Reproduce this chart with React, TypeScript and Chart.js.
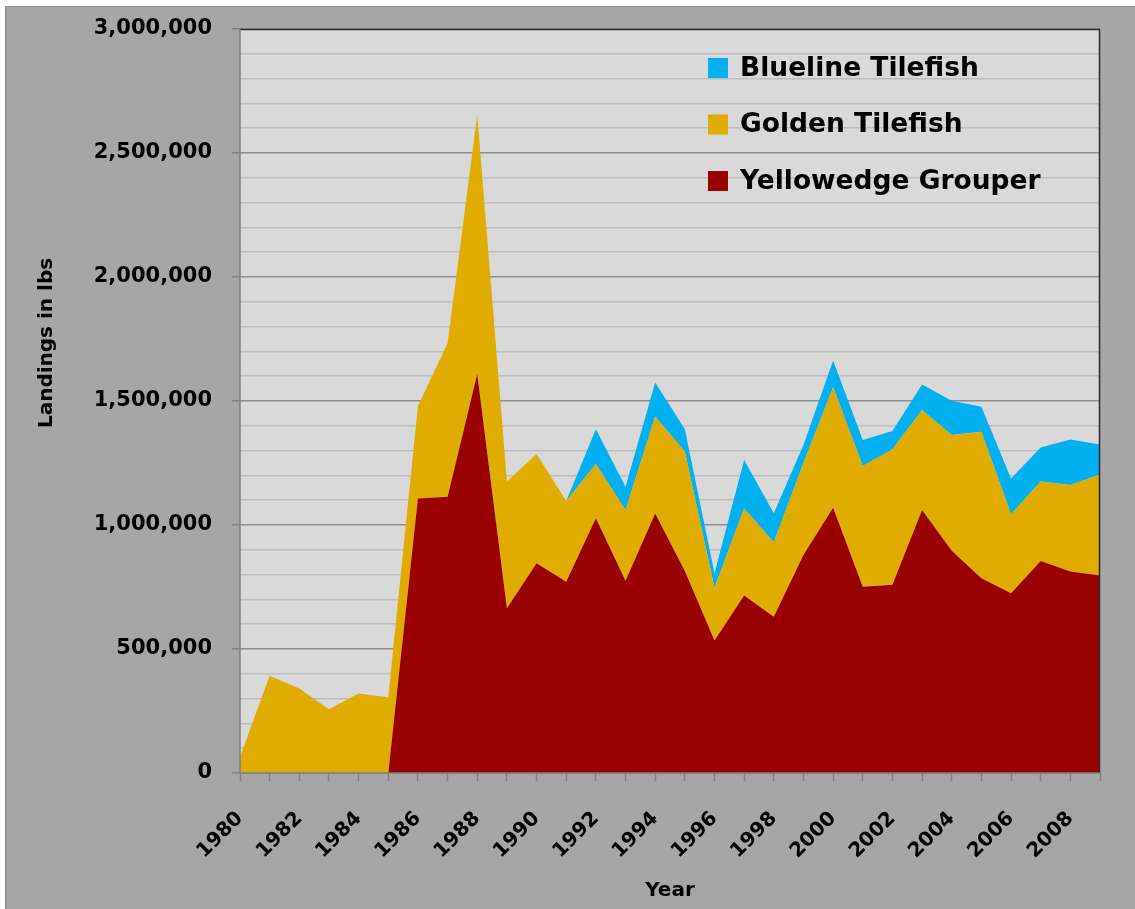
import React, { useEffect, useRef } from 'react';
import { Chart, registerables } from 'chart.js';

Chart.register(...registerables);

const years = ['1980','1981','1982','1983','1984','1985','1986','1987','1988','1989','1990','1991','1992','1993','1994','1995','1996','1997','1998','1999','2000','2001','2002','2003','2004','2005','2006','2007','2008','2009'];

const yellowedgeGrouper = [0,0,0,0,0,0,1107000,1114000,1609000,664000,846000,771000,1027000,775000,1046000,815000,534000,716000,630000,879000,1070000,751000,759000,1060000,896000,785000,725000,855000,812000,796000];

const goldenTilefish = [65000,392000,341000,257000,321000,305000,373000,619000,1044000,511000,440000,326000,219000,285000,391000,481000,213000,351000,300000,371000,485000,487000,546000,404000,467000,591000,318000,320000,349000,408000];

const bluelineTilefish = [0,0,0,0,0,0,0,0,0,0,0,0,140000,94000,138000,90000,58000,195000,117000,73000,108000,105000,74000,103000,138000,101000,145000,138000,184000,121000];

const yMax = 3000000;
const yStep = 100000;
const yLabelStep = 500000;

const seriesNames = ['Yellowedge Grouper', 'Golden Tilefish', 'Blueline Tilefish'];
const seriesColors = ['#990000', '#E0AC00', '#00B0F0'];

const FONT = '"DejaVu Sans", sans-serif';

export default function App() {
  const canvasRef = useRef<HTMLCanvasElement | null>(null);

  useEffect(() => {
    const canvas = canvasRef.current;
    if (!canvas) return;

    const plotDecor = {
      id: 'plotDecor',
      beforeDraw(chart: any) {
        const { ctx, chartArea: a } = chart;
        ctx.save();
        ctx.fillStyle = '#D9D9D9';
        ctx.fillRect(a.left, a.top, a.right - a.left, a.bottom - a.top);
        ctx.restore();
      },
      afterDatasetsDraw(chart: any) {
        const { ctx, chartArea: a } = chart;
        ctx.save();
        ctx.lineWidth = 1.5;
        ctx.strokeStyle = '#2a2a2a';
        ctx.beginPath();
        ctx.moveTo(a.left, a.top + 0.5);
        ctx.lineTo(a.right - 0.5, a.top + 0.5);
        ctx.lineTo(a.right - 0.5, a.bottom);
        ctx.stroke();
        ctx.strokeStyle = '#808080';
        ctx.lineWidth = 1.5;
        ctx.beginPath();
        ctx.moveTo(a.left, a.top);
        ctx.lineTo(a.left, a.bottom);
        ctx.lineTo(a.right, a.bottom);
        ctx.stroke();

        // y axis title
        ctx.fillStyle = '#000';
        ctx.font = `bold 20px ${FONT}`;
        ctx.textAlign = 'center';
        ctx.textBaseline = 'middle';
        ctx.translate(41, 336);
        ctx.rotate(-Math.PI / 2);
        ctx.fillText('Landings in lbs', 0, 0);
        ctx.restore();

        // legend
        ctx.save();
        const order = [2, 1, 0];
        ctx.font = `bold 26.5px ${FONT}`;
        ctx.textBaseline = 'middle';
        ctx.textAlign = 'left';
        order.forEach((di, r) => {
          const cy = 61 + r * 56.5;
          ctx.fillStyle = seriesColors[di];
          ctx.fillRect(702, cy - 10, 20, 20);
          ctx.fillStyle = '#000';
          ctx.fillText(chart.data.datasets[di].label, 734, cy + 1);
        });
        ctx.restore();
      },
    };

    const chart = new Chart(canvas, {
      type: 'line',
      data: {
        labels: years,
        datasets: [
          { label: seriesNames[0], data: yellowedgeGrouper, backgroundColor: seriesColors[0], borderColor: seriesColors[0], fill: 'origin' },
          { label: seriesNames[1], data: goldenTilefish, backgroundColor: seriesColors[1], borderColor: seriesColors[1], fill: '-1' },
          { label: seriesNames[2], data: bluelineTilefish, backgroundColor: seriesColors[2], borderColor: seriesColors[2], fill: '-1' },
        ],
      },
      options: {
        animation: false,
        responsive: false,
        maintainAspectRatio: false,
        elements: {
          line: { tension: 0, borderWidth: 0 },
          point: { radius: 0, hoverRadius: 0 },
        },
        layout: { padding: { top: 22, right: 34, left: 0, bottom: 0 } },
        plugins: {
          legend: { display: false },
          tooltip: { enabled: false },
        },
        scales: {
          x: {
            type: 'category',
            offset: false,
            grid: {
              drawOnChartArea: false,
              drawTicks: true,
              tickLength: 8,
              tickColor: '#808080',
              tickWidth: 1.5,
            },
            border: { display: false },
            ticks: {
              autoSkip: false,
              maxRotation: 45,
              minRotation: 45,
              padding: 26,
              color: '#000',
              font: { family: FONT, size: 20, weight: 'bold' },
              callback: (_v: any, i: number) => (i % 2 === 0 ? years[i] : ''),
            },
            title: {
              display: true,
              text: 'Year',
              color: '#000',
              font: { family: FONT, size: 20, weight: 'bold' },
              padding: { top: 0, bottom: 5 },
            },
            afterFit: (s: any) => { s.height = 135; s.paddingLeft = 0; s.paddingRight = 0; },
          },
          y: {
            stacked: true,
            min: 0,
            max: yMax,
            grid: {
              drawTicks: true,
              tickLength: 8,
              lineWidth: 1.5,
              color: (c: any) => (c.tick && c.tick.value % yLabelStep === 0 ? '#8E8E8E' : '#BDBDBD'),
              tickColor: (c: any) => (c.tick && c.tick.value % yLabelStep === 0 ? '#808080' : 'rgba(0,0,0,0)'),
            },
            border: { display: false },
            ticks: {
              stepSize: yStep,
              maxTicksLimit: 100,
              autoSkip: false,
              padding: 20,
              color: '#000',
              font: { family: FONT, size: 21, weight: 'bold' },
              callback: (v: any) => (Number(v) % yLabelStep === 0 ? Number(v).toLocaleString('en-US') : ''),
            },
            afterFit: (s: any) => { s.width = 234; s.paddingTop = 0; s.paddingBottom = 0; },
          },
        },
      },
      plugins: [plotDecor],
    } as any);

    return () => chart.destroy();
  }, []);

  return (
    <div
      style={{
        position: 'absolute',
        left: 5,
        top: 6,
        width: 1129,
        height: 902,
        background: '#A6A6A6',
        borderLeft: '1px solid #888888',
        borderTop: '1px solid #888888',
      }}
    >
      <canvas ref={canvasRef} width={1128} height={901} style={{ display: 'block' }} />
    </div>
  );
}
